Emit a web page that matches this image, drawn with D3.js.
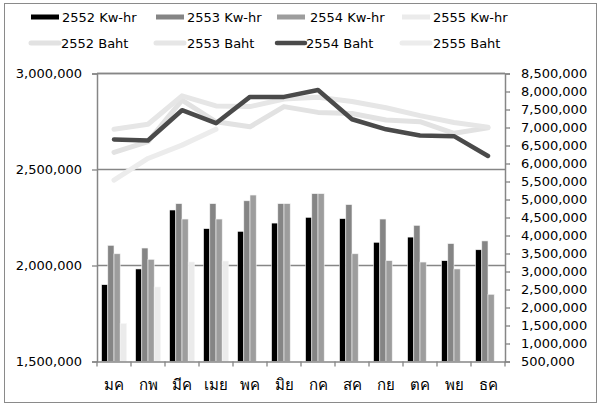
<!DOCTYPE html>
<html><head><meta charset="utf-8">
<script src="https://cdn.jsdelivr.net/npm/d3@7"></script>
<style>
html,body{margin:0;padding:0;background:#fff;}
svg{display:block;font-family:"DejaVu Sans",sans-serif;}
</style></head>
<body><svg id="chart" width="601" height="408"></svg>
<script>
const categories = ["มค","กพ","มีค","เมย","พค","มิย","กค","สค","กย","ตค","พย","ธค"];
const kwh2552 = [1900000,1982000,2289000,2192000,2178000,2221000,2251000,2244000,2121000,2148000,2025000,2082000];
const kwh2553 = [2105000,2091000,2322000,2322000,2337000,2322000,2374000,2317000,2242000,2209000,2114000,2128000];
const kwh2554 = [2061000,2032000,2242000,2242000,2367000,2322000,2374000,2061000,2025000,2018000,1982000,1850000];
const kwh2555 = [1697000,1888000,2018000,2023000];
const baht2552 = [6310000,6610000,7760000,7160000,7020000,7580000,7420000,7390000,7210000,7160000,6840000,6990000];
const baht2553 = [6950000,7090000,7880000,7600000,7580000,7790000,7840000,7720000,7550000,7330000,7140000,7010000];
const baht2554 = [6670000,6640000,7480000,7120000,7850000,7850000,8040000,7230000,6950000,6780000,6760000,6210000];
const baht2555 = [5540000,6140000,6510000,6950000];
const leftTicks = [1500000,2000000,2500000,3000000];
const rightTicks = d3.range(500000, 8500001, 500000);

const barSeries = [
  {name:"2552 Kw-hr", values:kwh2552, color:"#000000"},
  {name:"2553 Kw-hr", values:kwh2553, color:"#858585"},
  {name:"2554 Kw-hr", values:kwh2554, color:"#9d9d9d"},
  {name:"2555 Kw-hr", values:kwh2555, color:"#ebebeb"}
];
const lineSeries = [
  {name:"2552 Baht", values:baht2552, color:"#e2e2e2", width:5},
  {name:"2553 Baht", values:baht2553, color:"#e6e6e6", width:5},
  {name:"2554 Baht", values:baht2554, color:"#4a4a4a", width:4.5},
  {name:"2555 Baht", values:baht2555, color:"#ececec", width:5}
];

const svg = d3.select("#chart");
const L = 97, R = 505, T = 73.5, B = 361.5;
const axisColor = "#868686";
const fmt = d3.format(",");

svg.append("rect").attr("x",4.5).attr("y",3.5).attr("width",592).attr("height",399)
  .attr("fill","#fff").attr("stroke","#8a8a8a").attr("stroke-width",1);

const x0 = d3.scaleBand().domain(categories).range([L,R]).paddingInner(0).paddingOuter(0);
const x1 = d3.scaleBand().domain(barSeries.map(s=>s.name)).range([x0.bandwidth()*0.135, x0.bandwidth()*0.865]);
const yL = d3.scaleLinear().domain([1500000,3000000]).range([B,T]);
const yR = d3.scaleLinear().domain([500000,8500000]).range([B,T]);

// gridlines
svg.append("g").selectAll("line").data(leftTicks.slice(1)).join("line")
  .attr("x1",L).attr("x2",R).attr("y1",d=>yL(d)).attr("y2",d=>yL(d))
  .attr("stroke",axisColor).attr("stroke-width",1.3);

// bars
const gBars = svg.append("g");
barSeries.forEach(s=>{
  gBars.append("g").selectAll("rect").data(s.values.map((v,i)=>({v,c:categories[i]}))).join("rect")
    .attr("x",d=>x0(d.c)+x1(s.name))
    .attr("width",x1.bandwidth())
    .attr("y",d=>yL(d.v))
    .attr("height",d=>B-yL(d.v))
    .attr("fill",s.color)
    .attr("stroke","#f4f4f4").attr("stroke-width",0.6);
});

// left axis
const axL = d3.axisLeft(yL).tickValues(leftTicks).tickFormat(fmt).tickSize(5).tickPadding(10);
const gL = svg.append("g").attr("transform",`translate(${L},0)`).call(axL);
// right axis
const axR = d3.axisRight(yR).tickValues(rightTicks).tickFormat(fmt).tickSize(5).tickPadding(11);
const gR = svg.append("g").attr("transform",`translate(${R},0)`).call(axR);
// bottom axis
const axB = d3.axisBottom(x0).tickSize(0).tickPadding(18);
const gB = svg.append("g").attr("transform",`translate(0,${B})`).call(axB);
svg.append("g").selectAll("line").data(d3.range(categories.length+1)).join("line")
  .attr("x1",i=>L+i*x0.step()).attr("x2",i=>L+i*x0.step())
  .attr("y1",B).attr("y2",B+5).attr("stroke",axisColor).attr("stroke-width",1.3);

[gL,gR,gB].forEach(g=>{
  g.select(".domain").attr("stroke",axisColor).attr("stroke-width",1.5);
  g.selectAll(".tick line").attr("stroke",axisColor).attr("stroke-width",1.3);
  g.selectAll("text").attr("fill","#000").style("font-family","'DejaVu Sans',sans-serif");
});
gL.selectAll("text").style("font-size","13px");
gR.selectAll("text").style("font-size","13px");
gB.selectAll("text").style("font-size","15px");
// top gridline
svg.append("line").attr("x1",L).attr("x2",R).attr("y1",yL(3000000)).attr("y2",yL(3000000))
  .attr("stroke",axisColor).attr("stroke-width",1.3);

// lines
const xc = c => x0(c) + x0.bandwidth()/2;
const gLines = svg.append("g");
lineSeries.forEach(s=>{
  const line = d3.line().x((d,i)=>xc(categories[i])).y(d=>yR(d));
  gLines.append("path").datum(s.values).attr("d",line)
    .attr("fill","none").attr("stroke",s.color).attr("stroke-width",s.width)
    .attr("stroke-linejoin","round").attr("stroke-linecap","round");
});

// legend
const legX = [31,156,277,402];
const legTextX1 = [62,187,310,433];
const legTextX2 = [61,187,306,433];
const lg = svg.append("g").style("font-size","13px");
barSeries.forEach((s,i)=>{
  lg.append("rect").attr("x",legX[i]).attr("y",14.5).attr("width",28).attr("height",5)
    .attr("fill",s.color);
  lg.append("text").attr("x",legTextX1[i]).attr("y",17).attr("dy","0.35em").text(s.name);
});
lineSeries.forEach((s,i)=>{
  lg.append("line").attr("x1",legX[i]).attr("x2",legX[i]+28).attr("y1",43).attr("y2",43)
    .attr("stroke",s.color).attr("stroke-width",s.width).attr("stroke-linecap","round");
  lg.append("text").attr("x",legTextX2[i]).attr("y",43).attr("dy","0.35em").text(s.name);
});
</script></body></html>
